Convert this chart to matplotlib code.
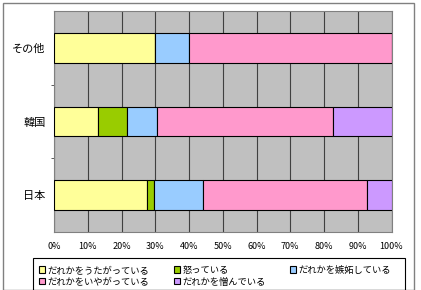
import matplotlib.pyplot as plt
import numpy as np
from matplotlib.patches import Rectangle

plt.rcParams['font.family'] = ['Noto Sans CJK JP', 'DejaVu Sans']

countries = ['日本', '韓国', 'その他']
labels = ['だれかをうたがっている', '怒っている', 'だれかを嫉妬している',
          'だれかをいやがっている', 'だれかを憎んでいる']
colors = ['#FFFF99', '#99CC00', '#99CCFF', '#FF99CC', '#CC99FF']

# percent shares per country, one list per answer
suspect = [27.7, 13.0, 30.0]
angry = [1.8, 8.7, 0.0]
jealous = [14.7, 8.7, 10.0]
dislike = [48.4, 52.2, 60.0]
hate = [7.4, 17.4, 0.0]
series = [suspect, angry, jealous, dislike, hate]

W, H = 421, 290
fig = plt.figure(figsize=(W/100, H/100), dpi=100)
fig.patches.append(Rectangle((3/W, 0.0), 411/W, 1-3/H, transform=fig.transFigure,
                             fill=False, edgecolor='#808080', linewidth=1))
ax = fig.add_axes([54/W, 1-232/H, 337.5/W, 221/H])
ax.set_facecolor('#C0C0C0')

y = np.arange(len(countries))
left = np.zeros(len(countries))
handles = []
for vals, c, lab in zip(series, colors, labels):
    h = ax.barh(y, vals, left=left, height=0.4, color=c, edgecolor='black',
                linewidth=0.8, label=lab, zorder=3)
    handles.append(h)
    left += np.array(vals)

ax.set_xlim(0, 100)
ax.set_ylim(-0.5, 2.5)
ax.set_xticks(np.arange(0, 101, 10))
ax.set_xticklabels([f'{v}%' for v in range(0, 101, 10)], fontsize=6.5)
ax.xaxis.grid(True, color='#404040', linewidth=0.8, zorder=0)
ax.set_axisbelow(True)
ax.tick_params(axis='x', length=0, pad=7)
ax.set_yticks(y)
ax.set_yticklabels(countries, fontsize=8)
ax.tick_params(axis='y', length=0, pad=6)
ax.set_yticks([0.5, 1.5], minor=True)
ax.tick_params(axis='y', which='minor', length=2, color='#404040')
for s in ax.spines.values():
    s.set_color('#808080')
    s.set_linewidth(0.8)

# legend box, Excel style
fig.patches.append(Rectangle((33/W, 0.0), 372/W, 1-258/H, transform=fig.transFigure,
                             fill=False, edgecolor='black', linewidth=0.8))
order = [0, 3, 1, 4, 2]
leg = fig.legend([handles[i] for i in order], [labels[i] for i in order],
                 ncol=3, loc='upper left', bbox_to_anchor=(36/W, 1-263/H),
                 fontsize=6.7, frameon=False,
                 handlelength=0.65, handleheight=0.65, handletextpad=0.3,
                 borderpad=0.3, labelspacing=0.3, columnspacing=2.6, borderaxespad=0)

fig.savefig('out.png', dpi=100)
